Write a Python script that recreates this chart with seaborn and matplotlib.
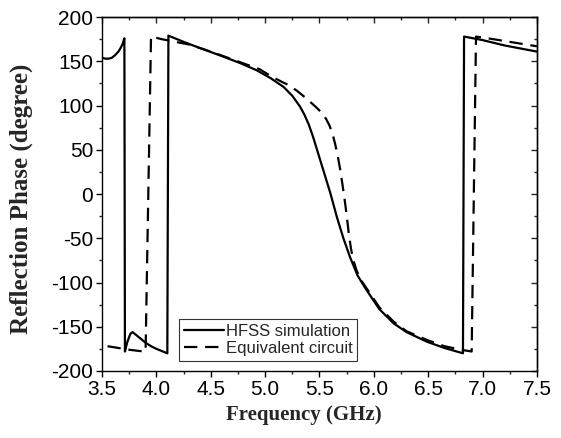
import numpy as np
import pandas as pd
import seaborn as sns
import matplotlib.pyplot as plt
from matplotlib.ticker import MultipleLocator

# HFSS simulation (solid), phase wraps at +/-180
hfss_freq = [3.50, 3.53, 3.56, 3.59, 3.62, 3.65, 3.67, 3.69, 3.705,
             3.71, 3.73, 3.76, 3.78, 3.80, 3.85, 3.90, 3.95, 4.00, 4.05, 4.10,
             4.11, 4.25, 4.40, 4.60, 4.77, 4.92, 5.05, 5.17, 5.25, 5.32, 5.36,
             5.40, 5.44, 5.47, 5.50, 5.53, 5.56, 5.60, 5.66, 5.72, 5.78, 5.85,
             5.93, 6.05, 6.18, 6.30, 6.49, 6.65, 6.82,
             6.83, 7.00, 7.20, 7.50]
hfss_phase = [154, 153, 153, 154, 157, 161, 165, 170, 176,
              -178, -168, -158, -156, -158, -163, -168, -172, -175, -177.5, -180,
              179, 172, 165, 156, 148, 140, 131, 121, 111, 99, 90,
              79, 65, 53, 41, 29, 17, 1, -26, -50, -71, -92,
              -108, -130, -146, -156, -167, -174, -180,
              178, 174, 168, 161]

# Equivalent circuit (dashed)
eq_freq = [3.55, 3.65, 3.75, 3.85, 3.90,
           3.95, 4.05, 4.30, 4.50, 4.77, 4.95, 5.07, 5.20, 5.29, 5.38, 5.47,
           5.52, 5.56, 5.59, 5.62, 5.645, 5.665, 5.69, 5.71, 5.73, 5.75, 5.77,
           5.79, 5.81, 5.84, 5.88, 5.93, 6.05, 6.18, 6.30, 6.49, 6.65, 6.80, 6.90,
           6.94, 7.10, 7.30, 7.50]
eq_phase = [-172, -174, -176, -177.5, -178,
            178, 175, 169, 161, 149, 141, 132, 124, 117, 108, 98,
            92, 85, 78, 68, 56, 45, 28, 12, -5, -24, -45,
            -62, -74, -86, -97, -106, -128, -144, -155, -165, -172, -176, -178,
            178, 175, 171, 167]

series_names = ["HFSS simulation", "Equivalent circuit"]

df = pd.concat([
    pd.DataFrame({"freq": hfss_freq, "phase": hfss_phase, "series": series_names[0]}),
    pd.DataFrame({"freq": eq_freq, "phase": eq_phase, "series": series_names[1]}),
])

sns.set_style("ticks")
plt.rcParams["font.family"] = ["Liberation Sans", "DejaVu Sans"]
plt.rcParams["axes.unicode_minus"] = False

fig = plt.figure(figsize=(5.61, 4.38), dpi=100)
ax = fig.add_axes([0.182, 0.153, 0.775, 0.808])

sns.lineplot(data=df, x="freq", y="phase", style="series", hue="series",
             palette={n: "black" for n in series_names},
             dashes={series_names[0]: "", series_names[1]: (6, 3.5)},
             estimator=None, sort=False, linewidth=1.6, ax=ax)

ax.set_xlim(3.5, 7.5)
ax.set_ylim(-200, 200)
ax.xaxis.set_minor_locator(MultipleLocator(0.25))
ax.yaxis.set_major_locator(MultipleLocator(50))
ax.yaxis.set_minor_locator(MultipleLocator(25))
ax.set_xticks(np.arange(3.5, 7.51, 0.5))
ax.set_xticklabels([f"{v:.1f}" for v in np.arange(3.5, 7.51, 0.5)])

for s in ax.spines.values():
    s.set_visible(True)
    s.set_linewidth(1.0)
    s.set_color("black")

ax.tick_params(axis="both", which="major", direction="out", length=4, width=1,
               labelsize=15, pad=2.5, colors="black")
ax.tick_params(axis="both", which="minor", direction="out", length=2.5, width=1)
# mirrored ticks on top/right point inward
sec_x = ax.secondary_xaxis("top")
sec_x.xaxis.set_major_locator(MultipleLocator(0.5))
sec_x.xaxis.set_minor_locator(MultipleLocator(0.25))
sec_x.tick_params(which="major", direction="in", length=4, width=1, labeltop=False)
sec_x.tick_params(which="minor", direction="in", length=2.5, width=1)
sec_x.spines["top"].set_linewidth(1.0)
sec_y = ax.secondary_yaxis("right")
sec_y.yaxis.set_major_locator(MultipleLocator(50))
sec_y.yaxis.set_minor_locator(MultipleLocator(25))
sec_y.tick_params(which="major", direction="in", length=4, width=1, labelright=False)
sec_y.tick_params(which="minor", direction="in", length=2.5, width=1)
sec_y.spines["right"].set_linewidth(1.0)

ax.set_xlabel("Frequency (GHz)", fontsize=15, fontweight="bold",
              family="Liberation Serif")
ax.xaxis.set_label_coords(0.464, -0.095)
ax.set_ylabel("Reflection Phase (degree)", fontsize=18, fontweight="bold",
              family="Liberation Serif")
ax.yaxis.set_label_coords(-0.16, 0.486)

handles, labels = ax.get_legend_handles_labels()
leg = ax.legend(handles, labels, loc="lower left", bbox_to_anchor=(0.177, 0.028),
                borderaxespad=0, fontsize=12, frameon=True, fancybox=False,
                handlelength=2.4, handletextpad=0.1, borderpad=0.3,
                labelspacing=0.15)
leg.get_frame().set_edgecolor("black")
leg.get_frame().set_linewidth(0.8)

fig.savefig("out.png", dpi=100)
